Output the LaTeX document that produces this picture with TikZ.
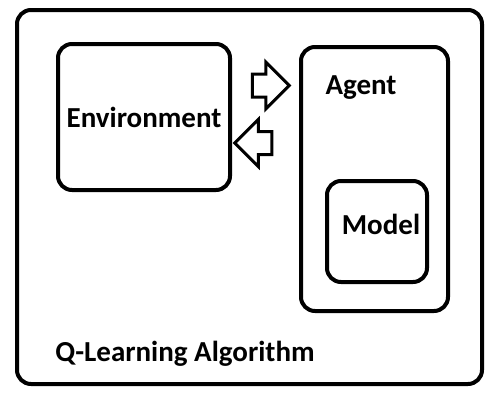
\documentclass[tikz,border=0pt]{standalone}
\usepackage{fontspec}
\setmainfont{Carlito}
\usetikzlibrary{shapes.arrows}
\tikzstyle{base}=[rectangle,
                    draw=black,
                    line width=4pt,
                    rounded corners=14pt,
                    inner sep=0pt,
                    text centered]
\tikzstyle{label}=[font=\bfseries\fontsize{29}{34}\selectfont, inner sep=0pt]
\tikzstyle{blockarrow}=[single arrow,
                    draw=black,
                    line width=3pt,
                    inner sep=0pt,
                    inner ysep=10pt,
                    minimum height=37pt,
                    single arrow head extend=12pt]

\begin{document}
\begin{tikzpicture}[x=1pt, y=-1pt]
    \useasboundingbox (0,0) rectangle (503,407);

      \node at (249.5, 197.0) (algorithm)   [base, minimum width=465pt, minimum height=374pt] {};
      \node at (144.0, 117.0) (environment) [base, label, minimum width=172pt, minimum height=146pt] {Environment};
      \node at (374.5, 179.0) (agent)       [base, minimum width=147pt, minimum height=264pt] {};
      \node at (377.0, 231.5) (model)       [base, minimum width=100pt, minimum height=101pt] {};

      \node at (361.0,  88.0) (agent_text)  [label] {Agent};
      \node at (381.0, 224.0) (model_text)  [label] {Model};
      \node at (185.0, 354.0) (algo_text)   [label] {Q-Learning Algorithm};

      \node at (265.0,  85.5) (action)      [blockarrow] {};
      \node at (259.0, 143.0) (reward)      [blockarrow, shape border rotate=180] {};
  \end{tikzpicture}
\end{document}
